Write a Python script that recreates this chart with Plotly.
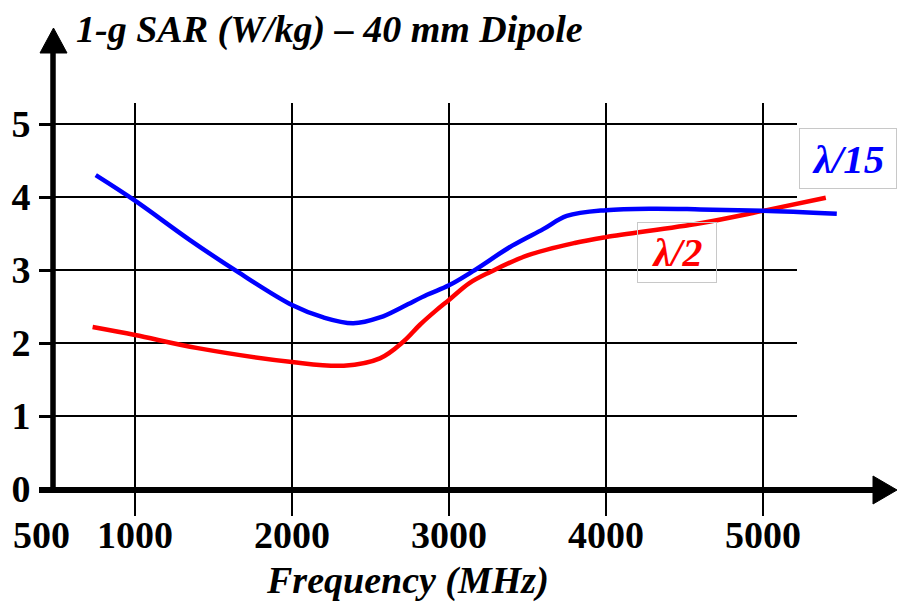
import plotly.graph_objects as go

# ---- data ----
freq_l15 = [750, 1000, 1350, 1650, 2000, 2200, 2390, 2560, 2710, 2860, 3000, 3150, 3400, 3600, 3750, 4000, 4300, 4600, 5000, 5470]
sar_l15 = [4.30, 3.95, 3.41, 2.98, 2.52, 2.35, 2.27, 2.35, 2.50, 2.66, 2.79, 2.98, 3.33, 3.56, 3.74, 3.82, 3.84, 3.83, 3.81, 3.77]

freq_l2 = [730, 1000, 1400, 2000, 2330, 2560, 2710, 2815, 2920, 3000, 3130, 3260, 3500, 3800, 4000, 4600, 5000, 5400]
sar_l2 = [2.22, 2.11, 1.93, 1.74, 1.69, 1.79, 2.02, 2.25, 2.45, 2.59, 2.82, 2.97, 3.20, 3.37, 3.45, 3.64, 3.81, 3.99]

x_ticks = [1000, 2000, 3000, 4000, 5000]
x_origin_label = 500
y_ticks = [0, 1, 2, 3, 4, 5]

title_text = "1-g SAR (W/kg) – 40 mm Dipole"
xtitle_text = "Frequency (MHz)"
label_l15 = "λ/15"
label_l2 = "λ/2"

# ---- layout geometry (pixels) ----
WIDTH, HEIGHT = 898, 603
L, R, T, B = 53, 850, 103, 489
GRID_RIGHT = 797
PW, PH = R - L, B - T


def px(x):
    return (x - L) / PW


def py(y):
    return (B - y) / PH


FONT = "Liberation Serif"

fig = go.Figure()
fig.add_trace(go.Scatter(x=freq_l2, y=sar_l2, mode="lines",
                         line=dict(color="#ff0000", width=4.5, shape="spline", smoothing=1.0),
                         showlegend=False))
fig.add_trace(go.Scatter(x=freq_l15, y=sar_l15, mode="lines",
                         line=dict(color="#0000ff", width=4.5, shape="spline", smoothing=1.0),
                         showlegend=False))

x0 = 1000 + (L - 135) / 0.157
x1 = 1000 + (R - 135) / 0.157
y1 = (B - T) / 73.0

fig.update_xaxes(range=[x0, x1], tickvals=x_ticks, ticktext=[str(v) for v in x_ticks],
                 showgrid=True, gridcolor="black", gridwidth=2, zeroline=False, showline=False,
                 ticks="outside", ticklen=26, tickwidth=2, tickcolor="black", automargin=False,
                 tickfont=dict(family=FONT, size=38, color="black", weight="bold"),
                 ticklabelstandoff=-14)
fig.update_yaxes(range=[0, y1], tickvals=y_ticks, ticktext=[str(v) for v in y_ticks],
                 showgrid=False, zeroline=False, showline=False,
                 ticks="outside", ticklen=13, tickwidth=2.5, tickcolor="black", automargin=False,
                 tickfont=dict(family=FONT, size=38, color="black", weight="bold"),
                 ticklabelstandoff=1)

shapes = []
# horizontal gridlines (stop short of the plot's right edge, as in the original)
for v in y_ticks[1:]:
    shapes.append(dict(type="line", xref="paper", yref="y", x0=0, x1=px(GRID_RIGHT), y0=v, y1=v,
                       line=dict(color="black", width=2), layer="below"))
# axis lines
shapes.append(dict(type="line", xref="paper", yref="paper", x0=px(53), x1=px(53), y0=py(493), y1=py(50),
                   line=dict(color="black", width=5.5)))
shapes.append(dict(type="line", xref="paper", yref="paper", x0=px(39), x1=px(875), y0=py(490), y1=py(490),
                   line=dict(color="black", width=6)))
# arrow heads
shapes.append(dict(type="path", xref="paper", yref="paper",
                   path=f"M {px(40)} {py(53)} L {px(53.5)} {py(28)} L {px(67)} {py(53)} Z",
                   fillcolor="black", line=dict(color="black", width=1)))
shapes.append(dict(type="path", xref="paper", yref="paper",
                   path=f"M {px(873)} {py(476)} L {px(897)} {py(490)} L {px(873)} {py(504)} Z",
                   fillcolor="black", line=dict(color="black", width=1)))

annotations = [
    dict(text=f"<b><i>{title_text}</i></b>", xref="paper", yref="paper", x=px(74), y=py(29),
         xanchor="left", yanchor="middle", showarrow=False,
         font=dict(family=FONT, size=38, color="black")),
    dict(text=f"<b><i>{xtitle_text}</i></b>", xref="paper", yref="paper", x=px(407), y=py(580),
         xanchor="center", yanchor="middle", showarrow=False,
         font=dict(family=FONT, size=38, color="black")),
    dict(text=f"<b>{x_origin_label}</b>", xref="x", yref="paper", x=x_origin_label, y=py(535),
         xshift=-15, xanchor="center", yanchor="middle", showarrow=False,
         font=dict(family=FONT, size=38, color="black")),
    dict(text=f"<b><i>{label_l15}</i></b>", xref="paper", yref="paper", x=px(848), y=py(158.5),
         xanchor="center", yanchor="middle", showarrow=False, width=96, height=59,
         bordercolor="#c8c8c8", borderwidth=1, borderpad=0, bgcolor="white",
         font=dict(family=FONT, size=41, color="#0000ff")),
    dict(text=f"<b><i>{label_l2}</i></b>", xref="paper", yref="paper", x=px(677), y=py(252.5),
         xanchor="center", yanchor="middle", showarrow=False, width=78, height=59,
         bordercolor="#c8c8c8", borderwidth=1, borderpad=0, bgcolor="rgba(255,255,255,0)",
         font=dict(family=FONT, size=40, color="#ff0000")),
]

fig.update_layout(width=WIDTH, height=HEIGHT, autosize=False,
                  margin=dict(l=L, r=WIDTH - R, t=T, b=HEIGHT - B, pad=0),
                  paper_bgcolor="white", plot_bgcolor="white",
                  shapes=shapes, annotations=annotations, showlegend=False)

fig.write_html("out.html", config={"displayModeBar": False},
               post_script="document.body.style.margin='0';document.body.style.padding='0';")
